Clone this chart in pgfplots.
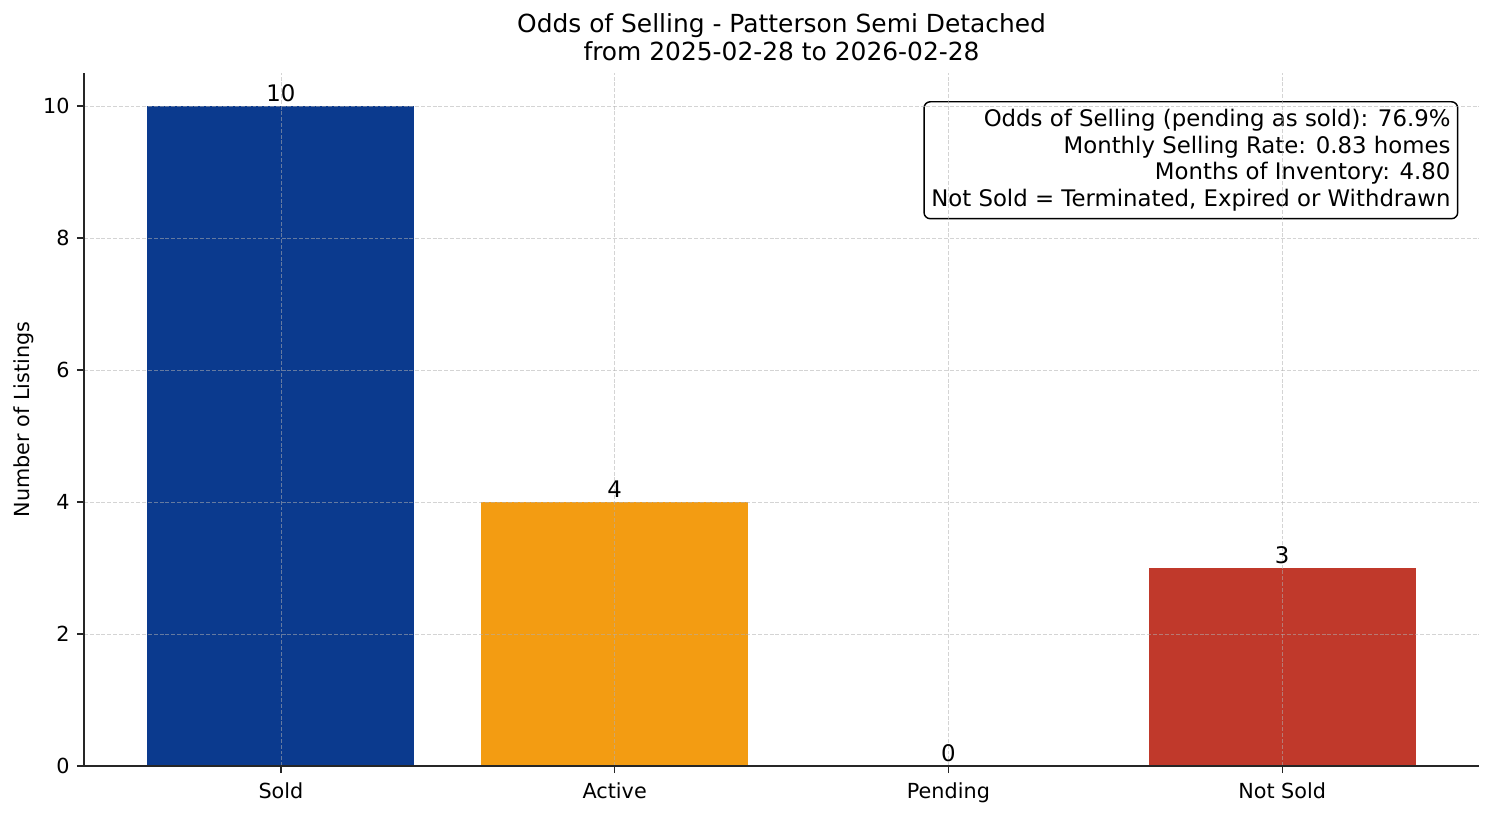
\documentclass[border=0pt]{standalone}
\usepackage{pgfplots}
\pgfplotsset{compat=1.18}
\usepackage{fontspec}
\setmainfont{DejaVu Sans}

\definecolor{soldblue}{HTML}{0B3A8E}
\definecolor{activeorange}{HTML}{F39C12}
\definecolor{notsoldred}{HTML}{C0392B}
\definecolor{gridgray}{HTML}{B0B0B0}

\begin{document}
\begin{tikzpicture}
\useasboundingbox (-40.5pt,-24.1pt) rectangle (679.5pt,369.2pt);
\begin{axis}[
    at={(0,0)}, anchor=south west,
    scale only axis, width=672.3pt, height=334pt,
    xmin=-0.59, xmax=3.59, ymin=0, ymax=10.5,
    axis x line*=bottom, axis y line*=left,
    axis line style={line width=0.6pt, black!85},
    xtick={0,1,2,3},
    xticklabels={Sold,Active,Pending,Not Sold},
    ytick={0,2,4,6,8,10},
    tick align=outside,
    major tick length=3.4pt,
    tick style={line width=0.6pt, black!85},
    ticklabel style={font=\fontsize{10}{12}\selectfont},
    xticklabel style={yshift=-1pt},
    /pgf/number format/assume math mode=true,
    grid=major,
    grid style={gridgray, opacity=0.55, line width=0.35pt, dash pattern=on 1.9pt off 0.9pt},
    axis on top,
    clip=false,
    nodes near coords,
    every node near coord/.append style={anchor=base, inner sep=0pt, yshift=2.4pt,
        font=\fontsize{11}{13}\selectfont, black},
]
\addplot[ybar, bar width=0.8, bar shift=0pt, fill=soldblue, draw=none] coordinates {(0,10)};
\addplot[ybar, bar width=0.8, bar shift=0pt, fill=activeorange, draw=none] coordinates {(1,4)};
\addplot[ybar, bar width=0.8, bar shift=0pt, fill=white, draw=none] coordinates {(2,0)};
\addplot[ybar, bar width=0.8, bar shift=0pt, fill=notsoldred, draw=none] coordinates {(3,3)};

% title
\node[anchor=base, font=\fontsize{12}{14}\selectfont] at ([yshift=19.3pt]rel axis cs:0.5,1) {Odds of Selling - Patterson Semi Detached};
\node[anchor=base, font=\fontsize{12}{14}\selectfont] at ([yshift=5.8pt]rel axis cs:0.5,1) {from 2025-02-28 to 2026-02-28};

% y label
\node[rotate=90, font=\fontsize{10}{12}\selectfont] at ([xshift=-29pt]rel axis cs:0,0.5) {Number of Listings};

% info box
\node[anchor=north east, draw=black, line width=0.7pt, rounded corners=3pt, fill=white,
      align=right, inner xsep=3.5pt, inner ysep=3.5pt,
      font=\fontsize{11}{12.9}\selectfont]
  at ([xshift=3.5pt, yshift=3.2pt]rel axis cs:0.98,0.95)
  {Odds of Selling (pending as sold): 76.9\%\\
   Monthly Selling Rate: 0.83 homes\\
   Months of Inventory: 4.80\\
   Not Sold = Terminated, Expired or Withdrawn};
\end{axis}
\end{tikzpicture}
\end{document}
